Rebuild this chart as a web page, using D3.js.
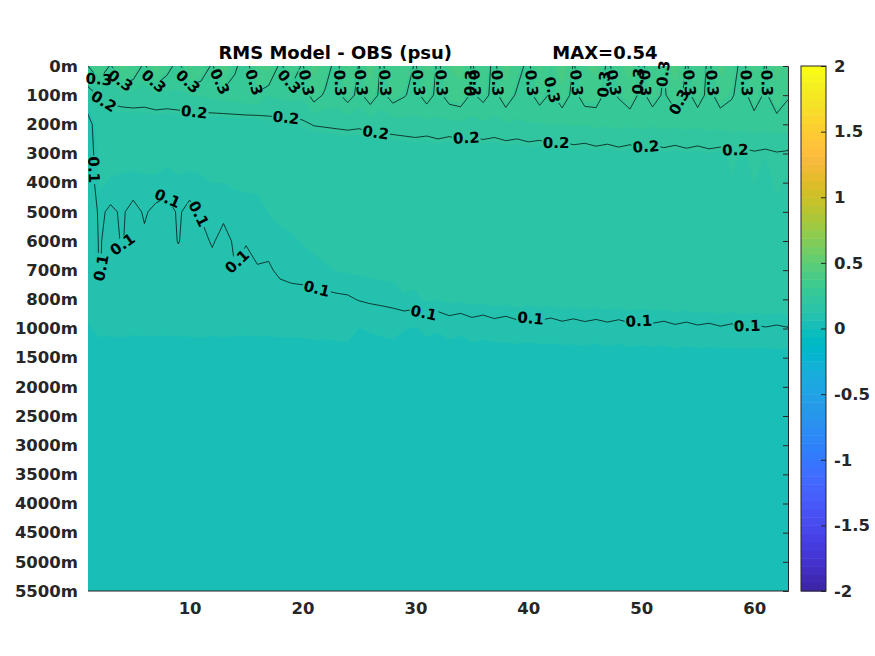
<!DOCTYPE html>
<html>
<head>
<meta charset="utf-8">
<script src="https://cdn.jsdelivr.net/npm/d3@7"></script>
<style>
  body { margin: 0; background: #fff; }
</style>
</head>
<body>
<script>
// x categories (profile number) and depth tick labels
var xValues = [1,2,3,4,5,6,7,8,9,10,11,12,13,14,15,16,17,18,19,20,21,22,23,24,25,26,27,28,29,30,31,32,33,34,35,36,37,38,39,40,41,42,43,44,45,46,47,48,49,50,51,52,53,54,55,56,57,58,59,60,61,62,63];
var depthLabels = ["0m","100m","200m","300m","400m","500m","600m","700m","800m","1000m","1500m","2000m","2500m","3000m","3500m","4000m","4500m","5000m","5500m"];
var xTicks = [10, 20, 30, 40, 50, 60];
var cbarTicks = [-2, -1.5, -1, -0.5, 0, 0.5, 1, 1.5, 2];
var contourLevels = [0.1, 0.2, 0.3];
var titleText = "RMS Model - OBS (psu)                MAX=0.54";

// RMS (psu) per depth level, one value per x
var d0m = [.30,.38,.29,.40,.36,.28,.41,.33,.27,.39, .35,.29,.42,.31,.27,.38,.40,.28,.36,.29, .41,.34,.27,.39,.295,.43,.28,.37,.35,.29, .40,.28,.38,.41,.29,.36,.27,.42,.33,.28, .39,.31,.44,.29,.37,.40,.28,.35,.41,.27, .38,.30,.43,.29,.36,.28,.40,.34,.27,.39, .29,.41,.33];
var d100m = [.16,.208,.217,.227,.233,.228,.24,.235,.245,.249, .255,.262,.27,.276,.285,.29,.251,.26,.271,.257, .33,.29,.28,.33,.28,.34,.28,.33,.305,.28, .33,.28,.33,.34,.29,.32,.28,.34,.29,.28, .33,.29,.34,.28,.33,.33,.28,.305,.34,.28, .33,.29,.34,.28,.33,.28,.33,.305,.28,.33, .29,.34,.305];
var d200m = [.07,.15,.162,.16,.158,.16,.161,.16,.157,.16, .163,.16,.159,.16,.16,.16,.18,.18,.18,.19, .203,.206,.209,.212,.209,.215,.218,.221,.232,.236, .232,.24,.2336,.24,.2336,.2416,.236,.2448,.24,.248, .244,.252,.248,.256,.252,.26,.2544,.2624,.256,.264, .256,.264,.2576,.2656,.2592,.2672,.2624,.272,.2656,.2736, .268,.276,.272];
var d300m = [.06,.14,.135,.14,.135,.138,.135,.133,.14,.135, .137,.14,.14,.142,.145,.145,.15,.152,.155,.16, .143,.146,.149,.152,.149,.155,.158,.161,.152,.156, .152,.16,.1536,.16,.1536,.1616,.156,.1648,.16,.168, .164,.172,.168,.176,.172,.18,.1744,.1824,.176,.184, .176,.184,.1776,.1856,.1792,.1872,.1824,.192,.1856,.1936, .188,.196,.192];
var d400m = [.06,.13,.1225,.118,.118,.12,.121,.115,.12,.118, .12,.125,.125,.13,.132,.133,.138,.14,.142,.146, .139,.142,.145,.148,.145,.151,.154,.157,.146,.15, .146,.154,.1476,.154,.1476,.1556,.15,.1588,.154,.162, .158,.166,.162,.17,.166,.174,.1684,.1764,.17,.178, .17,.178,.1716,.1796,.1732,.1812,.1764,.186,.1796,.1876, .182,.19,.186];
var d500m = [.06,.108,.0925,.105,.088,.104,.091,.085,.105,.088, .104,.106,.108,.108,.112,.112,.126,.13,.132,.136, .134,.137,.14,.143,.14,.146,.149,.152,.14,.144, .14,.148,.1416,.148,.1416,.1496,.144,.1528,.148,.156, .152,.16,.156,.164,.16,.168,.1624,.1704,.164,.172, .164,.172,.1656,.1736,.1672,.1752,.1704,.18,.1736,.1816, .176,.184,.18];
var d600m = [.06,.104,.085,.103,.084,.094,.085,.083,.102,.084, .088,.104,.088,.105,.104,.106,.114,.12,.122,.126, .129,.132,.135,.138,.135,.141,.144,.147,.134,.138, .134,.142,.1356,.142,.1356,.1436,.138,.1468,.142,.15, .146,.154,.15,.158,.154,.162,.1564,.1644,.158,.166, .158,.166,.1596,.1676,.1612,.1692,.1644,.174,.1676,.1756, .17,.178,.174];
var d700m = [.06,.103,.082,.084,.082,.086,.082,.081,.082,.082, .083,.086,.084,.099,.079,.0985,.094,.109,.113,.116, .12,.123,.126,.128,.13,.132,.133,.134,.129,.133, .129,.137,.1306,.137,.1306,.1386,.133,.1418,.137,.145, .141,.149,.145,.153,.149,.157,.1514,.1594,.153,.161, .153,.161,.1546,.1626,.1562,.1642,.1594,.169,.1626,.1706, .165,.173,.169];
var d800m = [.07,.08,.08,.08,.079,.08,.08,.079,.08,.08, .08,.08,.08,.08,.078,.08,.08,.079,.084,.084, .087,.09,.093,.095,.102,.106,.1088,.112,.124,.1204, .13,.1252,.1336,.1288,.1372,.1324,.1396,.1348,.142,.1372, .1432,.1384,.145,.1402,.1456,.1414,.1468,.142,.148,.1432, .1492,.145,.1516,.1468,.1528,.1492,.1552,.1504,.1558,.1516, .157,.1528,.1576];
var d1000m = [.06,.07,.07,.07,.068,.07,.069,.068,.07,.07, .07,.07,.07,.07,.068,.07,.07,.07,.07,.072, .073,.074,.075,.076,.062,.066,.0688,.072,.064,.0604, .07,.0652,.0736,.0688,.0772,.0724,.0796,.0748,.082,.0772, .0832,.0784,.085,.0802,.0856,.0814,.0868,.082,.088,.0832, .0892,.085,.0916,.0868,.0928,.0892,.0952,.0904,.0958,.0916, .097,.0928,.0976];
var d1500m = [.041,.044,.042,.045,.043,.041,.044,.046,.042,.043, .045,.041,.044,.042,.046,.043,.041,.045,.044,.042, .046,.043,.045,.047,.044,.042,.046,.045,.043,.047, .044,.046,.045,.043,.047,.046,.044,.048,.045,.046, .044,.047,.045,.048,.046,.044,.047,.045,.048,.046, .047,.045,.049,.046,.048,.047,.045,.049,.047,.048, .046,.049,.047];
var d2000m = [.037,.039,.036,.038,.040,.037,.039,.036,.038,.040, .037,.039,.038,.036,.040,.038,.037,.039,.036,.038, .040,.037,.039,.038,.036,.040,.038,.037,.039,.041, .038,.040,.037,.039,.041,.038,.040,.039,.037,.041, .039,.040,.038,.041,.039,.037,.040,.038,.041,.039, .040,.038,.041,.039,.037,.040,.042,.039,.041,.040, .038,.041,.039];
var d2500m = [.034,.036,.033,.035,.037,.034,.036,.033,.035,.036, .034,.035,.037,.033,.036,.035,.034,.036,.033,.035, .037,.034,.036,.035,.033,.036,.035,.034,.037,.035, .036,.034,.035,.037,.034,.036,.035,.033,.036,.037, .035,.036,.034,.037,.035,.036,.034,.037,.035,.036, .034,.037,.035,.036,.038,.035,.036,.034,.037,.035, .036,.035,.037];
var d3000m = [.032,.034,.031,.033,.035,.032,.033,.031,.034,.033, .032,.034,.033,.031,.034,.033,.032,.034,.031,.033, .034,.032,.033,.035,.032,.034,.033,.031,.034,.033, .035,.032,.034,.033,.031,.034,.033,.035,.032,.034, .033,.032,.035,.034,.032,.033,.035,.031,.034,.033, .032,.034,.033,.035,.032,.034,.033,.032,.035,.033, .034,.032,.033];
var d3500m = [.031,.032,.030,.033,.031,.032,.030,.033,.031,.032, .030,.032,.031,.033,.030,.032,.031,.030,.033,.031, .032,.030,.033,.031,.032,.030,.031,.033,.032,.030, .031,.033,.032,.030,.031,.033,.032,.031,.030,.033, .032,.031,.033,.030,.032,.031,.033,.032,.030,.031, .033,.031,.032,.030,.033,.032,.031,.033,.030,.032, .031,.033,.032];
var d4000m = [.030,.031,.029,.032,.030,.031,.029,.030,.032,.030, .031,.029,.030,.032,.031,.029,.030,.031,.029,.032, .030,.031,.029,.030,.032,.031,.029,.030,.031,.032, .029,.030,.031,.032,.030,.029,.031,.030,.032,.031, .030,.029,.031,.032,.030,.031,.029,.030,.032,.031, .029,.031,.030,.032,.031,.029,.030,.031,.032,.030, .031,.029,.030];
var d4500m = [.029,.030,.028,.031,.029,.030,.028,.030,.031,.029, .030,.028,.029,.031,.030,.028,.029,.030,.031,.029, .028,.030,.029,.031,.030,.028,.029,.031,.030,.029, .030,.028,.031,.029,.030,.031,.028,.029,.030,.031, .029,.030,.028,.031,.029,.030,.031,.028,.030,.029, .031,.029,.030,.028,.031,.030,.029,.031,.028,.030, .029,.031,.030];
var d5000m = [.028,.029,.030,.028,.029,.031,.028,.029,.030,.028, .029,.030,.028,.029,.031,.029,.028,.030,.029,.028, .030,.029,.028,.031,.029,.030,.028,.029,.030,.031, .029,.028,.030,.029,.031,.028,.030,.029,.028,.030, .031,.029,.028,.030,.029,.031,.028,.030,.029,.028, .030,.029,.031,.028,.030,.029,.028,.031,.030,.029, .028,.030,.029];
var d5500m = [.028,.027,.029,.028,.030,.027,.028,.029,.027,.028, .029,.028,.027,.030,.028,.029,.027,.028,.030,.028, .027,.029,.028,.030,.027,.028,.029,.028,.027,.030, .028,.029,.027,.028,.030,.029,.028,.027,.029,.028, .030,.028,.029,.027,.028,.030,.029,.028,.027,.029, .028,.030,.027,.029,.028,.029,.030,.027,.028,.029, .030,.028,.029];

// parula colormap, 64 entries
var parula = [[0.2422,0.1504,0.6603],[0.2504,0.1650,0.7076],[0.2578,0.1818,0.7511],[0.2647,0.1978,0.7952],[0.2706,0.2147,0.8364],[0.2751,0.2342,0.8710],[0.2783,0.2559,0.8991],[0.2803,0.2782,0.9221],[0.2813,0.3006,0.9414],[0.2810,0.3228,0.9579],[0.2795,0.3447,0.9717],[0.2760,0.3667,0.9829],[0.2699,0.3892,0.9906],[0.2602,0.4123,0.9952],[0.2440,0.4358,0.9988],[0.2206,0.4603,0.9973],[0.1963,0.4847,0.9892],[0.1834,0.5074,0.9798],[0.1786,0.5289,0.9682],[0.1764,0.5499,0.9520],[0.1687,0.5703,0.9359],[0.1540,0.5902,0.9218],[0.1460,0.6091,0.9079],[0.1380,0.6276,0.8973],[0.1248,0.6459,0.8883],[0.1113,0.6635,0.8763],[0.0952,0.6798,0.8598],[0.0689,0.6948,0.8394],[0.0297,0.7082,0.8163],[0.0036,0.7203,0.7917],[0.0067,0.7312,0.7660],[0.0433,0.7411,0.7394],[0.0964,0.7500,0.7120],[0.1408,0.7584,0.6842],[0.1717,0.7670,0.6554],[0.1938,0.7758,0.6251],[0.2161,0.7843,0.5923],[0.2470,0.7918,0.5567],[0.2906,0.7973,0.5188],[0.3406,0.8008,0.4789],[0.3909,0.8029,0.4354],[0.4456,0.8024,0.3909],[0.5044,0.7993,0.3480],[0.5616,0.7942,0.3045],[0.6174,0.7876,0.2612],[0.6720,0.7793,0.2227],[0.7242,0.7698,0.1910],[0.7738,0.7598,0.1646],[0.8203,0.7498,0.1535],[0.8634,0.7406,0.1596],[0.9035,0.7330,0.1774],[0.9393,0.7288,0.2100],[0.9728,0.7298,0.2394],[0.9956,0.7434,0.2371],[0.9970,0.7659,0.2199],[0.9952,0.7893,0.2028],[0.9892,0.8136,0.1885],[0.9786,0.8386,0.1766],[0.9676,0.8639,0.1643],[0.9610,0.8890,0.1537],[0.9597,0.9135,0.1423],[0.9628,0.9373,0.1265],[0.9691,0.9606,0.1064],[0.9769,0.9839,0.0805]];

(function(d3) {
  "use strict";

  /***** Configuration *****/
  var width = 875, height = 656;
  var plot = { left: 88, right: 788, top: 66, bottom: 591 };
  var cbar = { left: 801, right: 826 };
  var clim = [-2, 2];
  var axisColor = "#262626";
  var font = "'DejaVu Sans', sans-serif";

  var colors = parula.map(function(c) { return d3.rgb(c[0] * 255, c[1] * 255, c[2] * 255).formatHex(); });

  var rows = [d0m, d100m, d200m, d300m, d400m, d500m, d600m, d700m, d800m, d1000m,
              d1500m, d2000m, d2500m, d3000m, d3500m, d4000m, d4500m, d5000m, d5500m];
  var nx = xValues.length, ny = rows.length;
  var grid = [].concat.apply([], rows);

  /***** Scales *****/
  var x = d3.scaleLinear().domain([xValues[0], xValues[nx - 1]]).range([plot.left, plot.right]);
  var yIdx = d3.scaleLinear().domain([0, ny - 1]).range([plot.top, plot.bottom]);
  var yDepth = d3.scalePoint().domain(depthLabels).range([plot.top, plot.bottom]);
  var yBar = d3.scaleLinear().domain(clim).range([plot.bottom, plot.top]);

  // grid coordinates of d3.contours (cell centres at i + 0.5) to pixels
  function toScreen(p) {
    return [x(xValues[0] + p[0] - 0.5), yIdx(p[1] - 0.5)];
  }
  var path = d3.geoPath(d3.geoTransform({
    point: function(px, py) { var s = toScreen([px, py]); this.stream.point(s[0], s[1]); }
  }));

  /***** SVG *****/
  var svg = d3.select("body").append("svg")
    .attr("width", width)
    .attr("height", height)
    .style("font-family", font)
    .style("font-weight", "bold");

  var defs = svg.append("defs");
  defs.append("clipPath").attr("id", "clip")
    .append("rect")
    .attr("x", plot.left).attr("y", plot.top)
    .attr("width", plot.right - plot.left).attr("height", plot.bottom - plot.top);

  /***** Filled field, quantised to the colormap *****/
  var step = (clim[1] - clim[0]) / colors.length;
  var thresholds = colors.map(function(c, k) { return clim[0] + k * step; });
  var bands = d3.contours().size([nx, ny]).thresholds(thresholds)(grid);

  svg.append("g").attr("clip-path", "url(#clip)")
    .selectAll("path")
    .data(bands)
    .join("path")
    .attr("d", path)
    .attr("fill", function(d, k) { return colors[k]; })
    .attr("stroke", function(d, k) { return colors[k]; })
    .attr("stroke-width", 0.3);

  /***** Contour lines and inline labels *****/
  var mask = defs.append("mask").attr("id", "lblmask").attr("maskUnits", "userSpaceOnUse")
    .attr("x", 0).attr("y", 0).attr("width", width).attr("height", height);
  mask.append("rect").attr("width", width).attr("height", height).attr("fill", "#fff");

  var lineGroup = svg.append("g").attr("clip-path", "url(#clip)")
    .append("g").attr("mask", "url(#lblmask)");
  var labelGroup = svg.append("g");

  // [spacing along the line, first offset, minimum line length] in px
  var labelSpacing = { "0.1": [111, 56, 40], "0.2": [92, 22, 40], "0.3": [62, 17, 30] };

  function inside(p) {
    return p[0] >= plot.left - 0.5 && p[0] <= plot.right + 0.5 &&
           p[1] >= plot.top - 0.5 && p[1] <= plot.bottom + 0.5;
  }

  function ringRuns(ring) {
    var pts = ring.map(toScreen);
    var start = pts.findIndex(function(p) { return !inside(p); });
    var seq = start < 0 ? pts : pts.slice(start).concat(pts.slice(1, start + 1));
    var runs = [], cur = [];
    seq.forEach(function(p) {
      if (inside(p)) cur.push(p);
      else { if (cur.length > 1) runs.push(cur); cur = []; }
    });
    if (cur.length > 1) runs.push(cur);
    return runs;
  }

  function labelSpots(run, spacing, offset, minLen) {
    var cum = [0];
    for (var i = 1; i < run.length; i++) {
      cum.push(cum[i - 1] + Math.hypot(run[i][0] - run[i - 1][0], run[i][1] - run[i - 1][1]));
    }
    var total = cum[cum.length - 1];
    if (total < minLen) return [];
    function at(s) {
      var j = Math.min(Math.max(d3.bisectRight(cum, s), 1), run.length - 1);
      var t = (s - cum[j - 1]) / ((cum[j] - cum[j - 1]) || 1);
      return [run[j - 1][0] + t * (run[j][0] - run[j - 1][0]), run[j - 1][1] + t * (run[j][1] - run[j - 1][1])];
    }
    var spots = [];
    for (var s = offset; s < total - 15; s += spacing) {
      var p = at(s), a = at(Math.max(0, s - 9)), b = at(Math.min(total, s + 9));
      var ang = Math.atan2(b[1] - a[1], b[0] - a[0]) * 180 / Math.PI;
      if (ang > 90) ang -= 180;
      if (ang < -90) ang += 180;
      if (p[1] > plot.top + 5) spots.push({ x: p[0], y: p[1], ang: ang });
    }
    return spots;
  }

  contourLevels.forEach(function(level) {
    var geo = d3.contours().size([nx, ny]).contour(grid, level);
    lineGroup.append("path")
      .attr("d", path(geo))
      .attr("fill", "none")
      .attr("stroke", "#000")
      .attr("stroke-width", 0.7);

    var cfg = labelSpacing[String(level)];
    var text = String(level);
    geo.coordinates.forEach(function(poly) {
      poly.forEach(function(ring) {
        ringRuns(ring).forEach(function(run) {
          labelSpots(run, cfg[0], cfg[1], cfg[2]).forEach(function(spot) {
            var tr = "translate(" + spot.x + "," + spot.y + ") rotate(" + spot.ang + ")";
            var t = labelGroup.append("text")
              .attr("transform", tr)
              .attr("text-anchor", "middle")
              .attr("dy", "0.36em")
              .attr("font-size", 15)
              .attr("fill", "#000")
              .text(text);
            var w = t.node().getComputedTextLength();
            mask.append("rect")
              .attr("transform", tr)
              .attr("x", -w / 2 - 1).attr("y", -6)
              .attr("width", w + 2).attr("height", 12)
              .attr("fill", "#000");
          });
        });
      });
    });
  });

  /***** Axes *****/
  var yAxis = svg.append("g")
    .attr("transform", "translate(" + plot.left + ",0)")
    .call(d3.axisLeft(yDepth).tickSize(0).tickPadding(10));
  yAxis.select(".domain").remove();

  svg.append("g")
    .attr("transform", "translate(" + plot.right + ",0)")
    .call(d3.axisLeft(yDepth).tickSize(5).tickFormat(""));

  var xAxis = svg.append("g")
    .attr("transform", "translate(0," + plot.bottom + ")")
    .call(d3.axisBottom(x).tickValues(xTicks).tickSize(0).tickPadding(11).tickFormat(d3.format("d")));
  xAxis.select(".domain").attr("d", "M" + plot.left + ",0H" + plot.right);

  svg.selectAll(".tick text")
    .attr("font-family", font)
    .attr("font-weight", "bold")
    .attr("font-size", 16.5)
    .attr("fill", axisColor);
  svg.selectAll(".domain, .tick line").attr("stroke", axisColor);

  /***** Colorbar *****/
  var bar = svg.append("g");
  bar.selectAll("rect.band")
    .data(colors)
    .join("rect")
    .attr("class", "band")
    .attr("x", cbar.left)
    .attr("width", cbar.right - cbar.left)
    .attr("y", function(c, k) { return yBar(clim[0] + (k + 1) * step); })
    .attr("height", function(c, k) { return yBar(clim[0] + k * step) - yBar(clim[0] + (k + 1) * step) + 0.5; })
    .attr("fill", function(c) { return c; });

  bar.append("rect")
    .attr("x", cbar.left).attr("y", plot.top)
    .attr("width", cbar.right - cbar.left).attr("height", plot.bottom - plot.top)
    .attr("fill", "none").attr("stroke", axisColor).attr("stroke-width", 1);

  var barAxis = svg.append("g")
    .attr("transform", "translate(" + cbar.right + ",0)")
    .call(d3.axisRight(yBar).tickValues(cbarTicks).tickSize(0).tickPadding(8)
      .tickFormat(function(d) { return String(d); }));
  barAxis.select(".domain").remove();
  barAxis.selectAll(".tick text")
    .attr("font-family", font).attr("font-weight", "bold")
    .attr("font-size", 16.5).attr("fill", axisColor);
  barAxis.selectAll(".tick").append("line")
    .attr("x1", -5).attr("x2", 0)
    .attr("stroke", axisColor);

  /***** Title *****/
  svg.append("text")
    .attr("x", (plot.left + plot.right) / 2)
    .attr("y", 59)
    .attr("text-anchor", "middle")
    .attr("xml:space", "preserve")
    .style("white-space", "pre")
    .attr("font-size", 18)
    .attr("fill", "#000")
    .text(titleText);
})(d3);
</script>
</body>
</html>
